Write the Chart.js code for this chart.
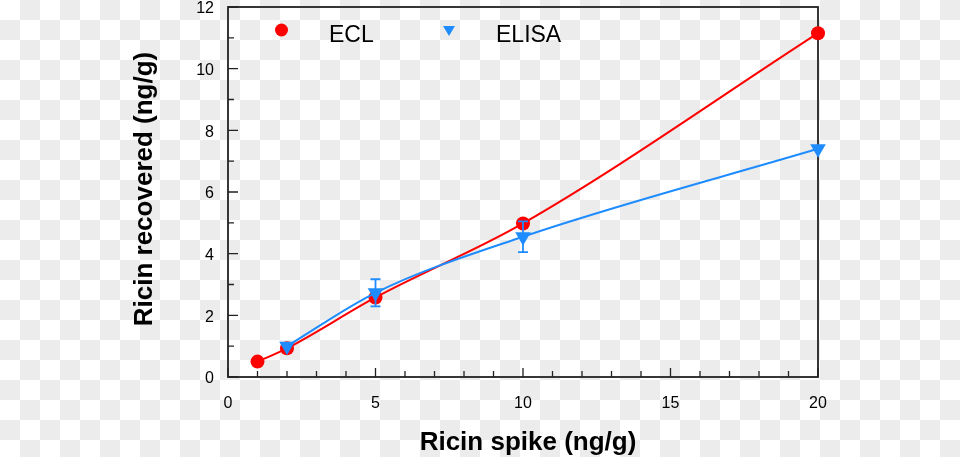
<!DOCTYPE html>
<html>
<head>
<meta charset="utf-8">
<script src="https://cdn.jsdelivr.net/npm/chart.js@4.4.0/dist/chart.umd.min.js"></script>
<style>
  html, body { margin: 0; padding: 0; }
  body {
    width: 960px; height: 457px; overflow: hidden;
    background: repeating-conic-gradient(#ececec 0 25%, #ffffff 0 50%) 0 0 / 40px 40px;
  }
  canvas { display: block; }
</style>
</head>
<body>
<canvas id="ricinChart" width="960" height="457"></canvas>
<script>
// values
const spikeEcl = [1, 2, 5, 10, 20];
const recoveredEcl = [0.5, 0.93, 2.58, 4.98, 11.15];
const spikeElisa = [2, 5, 10, 20];
const recoveredElisa = [1.0, 2.73, 4.55, 7.4];
const errElisa = [0, 0.44, 0.5, 0];

const xTicks = [0, 5, 10, 15, 20];
const xMinor = [1, 2, 3, 4, 6, 7, 8, 9, 11, 12, 13, 14, 16, 17, 18, 19];
const yTicks = [0, 2, 4, 6, 8, 10, 12];
const yMinor = [1, 3, 5, 7, 9, 11];

const RED = "#ff0000";
const BLUE = "#1e8cff";
const FONT = "'Liberation Sans', Arial, Helvetica, sans-serif";

const toPoints = (xs, ys) => xs.map((v, i) => ({ x: v, y: ys[i] }));

const decorations = {
    id: "decorations",
    beforeDatasetsDraw(chart) {
        const { ctx, chartArea: a, scales: { x, y } } = chart;
        ctx.save();
        ctx.strokeStyle = "#222";
        ctx.lineWidth = 1.8;
        ctx.strokeRect(a.left, a.top, a.right - a.left, a.bottom - a.top);
        ctx.lineWidth = 1.3;
        ctx.beginPath();
        xTicks.forEach(v => {
            const px = x.getPixelForValue(v);
            ctx.moveTo(px, a.bottom); ctx.lineTo(px, a.bottom - 9);
        });
        xMinor.forEach(v => {
            const px = x.getPixelForValue(v);
            ctx.moveTo(px, a.bottom); ctx.lineTo(px, a.bottom - 6);
        });
        yTicks.forEach(v => {
            const py = y.getPixelForValue(v);
            ctx.moveTo(a.left, py); ctx.lineTo(a.left + 10, py);
        });
        yMinor.forEach(v => {
            const py = y.getPixelForValue(v);
            ctx.moveTo(a.left, py); ctx.lineTo(a.left + 6, py);
        });
        ctx.stroke();
        ctx.restore();
    },
    afterDatasetsDraw(chart) {
        const { ctx, scales: { x, y } } = chart;
        ctx.save();
        // ELISA error bars
        ctx.strokeStyle = BLUE;
        ctx.lineWidth = 1.8;
        spikeElisa.forEach((v, i) => {
            if (!errElisa[i]) return;
            const px = x.getPixelForValue(v);
            const top = y.getPixelForValue(recoveredElisa[i] + errElisa[i]);
            const bot = y.getPixelForValue(recoveredElisa[i] - errElisa[i]);
            ctx.beginPath();
            ctx.moveTo(px, top); ctx.lineTo(px, bot);
            ctx.moveTo(px - 5, top); ctx.lineTo(px + 5, top);
            ctx.moveTo(px - 5, bot); ctx.lineTo(px + 5, bot);
            ctx.stroke();
        });

        // legend
        const ds = chart.data.datasets;
        ctx.fillStyle = RED;
        ctx.beginPath();
        ctx.arc(281.5, 30, 6.5, 0, Math.PI * 2);
        ctx.fill();
        ctx.fillStyle = BLUE;
        ctx.beginPath();
        ctx.moveTo(443, 26); ctx.lineTo(455, 26); ctx.lineTo(449, 36);
        ctx.closePath();
        ctx.fill();
        ctx.fillStyle = "#000";
        ctx.font = "23px " + FONT;
        ctx.textBaseline = "alphabetic";
        ctx.textAlign = "left";
        ctx.fillText(ds[1].label, 329, 42);
        ctx.fillText(ds[0].label, 496, 42);

        // axis titles
        ctx.font = "bold 26px " + FONT;
        ctx.textAlign = "center";
        ctx.fillText("Ricin spike (ng/g)", 528, 450);
        ctx.translate(152, 189);
        ctx.rotate(-Math.PI / 2);
        ctx.fillText("Ricin recovered (ng/g)", 0, 0);
        ctx.restore();
    }
};

new Chart(document.getElementById("ricinChart").getContext("2d"), {
    type: "scatter",
    data: {
        datasets: [
            {
                label: "ELISA",
                data: toPoints(spikeElisa, recoveredElisa),
                showLine: true,
                cubicInterpolationMode: "monotone",
                borderColor: BLUE,
                backgroundColor: BLUE,
                borderWidth: 2,
                pointStyle: "triangle",
                rotation: 180,
                pointRadius: 9,
                pointBorderWidth: 0,
                clip: false,
                order: 1,
            },
            {
                label: "ECL",
                data: toPoints(spikeEcl, recoveredEcl),
                showLine: true,
                cubicInterpolationMode: "monotone",
                borderColor: RED,
                backgroundColor: RED,
                borderWidth: 2,
                pointStyle: "circle",
                pointRadius: 7,
                pointBorderWidth: 0,
                clip: false,
                order: 2,
            },
        ],
    },
    options: {
        responsive: false,
        animation: false,
        events: [],
        layout: { autoPadding: false, padding: { left: 0, right: 142, top: 7, bottom: 0 } },
        plugins: { legend: { display: false }, tooltip: { enabled: false } },
        scales: {
            x: {
                type: "linear",
                min: 0,
                max: 20,
                grid: { display: false },
                border: { display: false },
                afterBuildTicks: s => { s.ticks = xTicks.map(v => ({ value: v })); },
                afterFit: s => { s.height = 80; s.paddingLeft = 0; s.paddingRight = 0; },
                ticks: {
                    padding: 9,
                    maxRotation: 0,
                    color: "#000",
                    font: { family: FONT, size: 16 },
                },
            },
            y: {
                type: "linear",
                min: 0,
                max: 12,
                grid: { display: false },
                border: { display: false },
                afterBuildTicks: s => { s.ticks = yTicks.map(v => ({ value: v })); },
                afterFit: s => { s.width = 228; s.paddingTop = 0; s.paddingBottom = 0; },
                ticks: {
                    padding: 6,
                    labelOffset: 2,
                    color: "#000",
                    font: { family: FONT, size: 16 },
                },
            },
        },
    },
    plugins: [decorations],
});
</script>
</body>
</html>
